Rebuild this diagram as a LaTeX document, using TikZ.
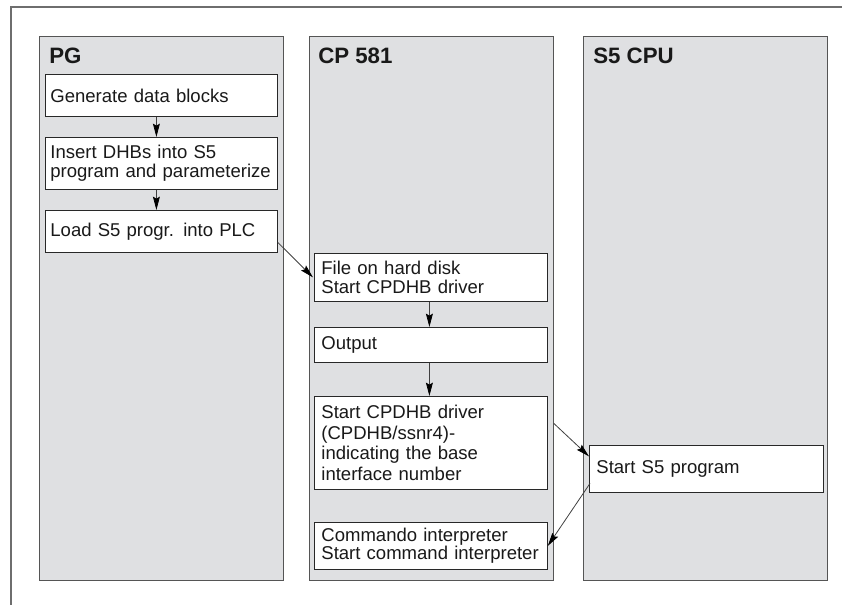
\documentclass[tikz,border=0pt]{standalone}
\usepackage{fontspec}
\setmainfont{Liberation Sans}
\usetikzlibrary{arrows.meta,calc}
\newdimen\pxu \pxu=0.75pt
\definecolor{colfill}{RGB}{223,224,226}
\definecolor{colline}{RGB}{85,85,85}
\definecolor{frameline}{RGB}{110,110,110}
\definecolor{boxline}{RGB}{40,40,40}
\begin{document}
\begin{tikzpicture}[x=0.75pt,y=-0.75pt,
  col/.style={draw=colline,fill=colfill,line width=0.9pt,rectangle,anchor=north west,inner sep=0pt},
  coltitle/.style={anchor=base west,inner sep=0pt,font=\fontsize{16.7pt}{18pt}\selectfont\bfseries,text=black!90},
  box/.style={draw=boxline,fill=white,line width=0.6pt,rectangle,anchor=north west,inner ysep=0pt,align=left,
    font=\fontsize{13.9pt}{13.8pt}\selectfont,text=black!90},
  pgbox/.style={box,inner xsep=5*\pxu},
  cpbox/.style={box,inner xsep=7*\pxu},
  arr/.style={draw=black!75,line width=0.6pt,-{Stealth[length=10pt,width=5.2pt,inset=1.5pt,color=black]}},
  frame/.style={draw=frameline,line width=0.9pt}]
\useasboundingbox (0,0) rectangle (842,605);
% outer frame (top and left only)
\coordinate (ftr) at (842,7);
\coordinate (ftl) at (11,7);
\coordinate (fbl) at (11,605);
\draw[frame] (ftr) -- (ftl) -- (fbl);
% columns
\node[col,minimum width=244*\pxu,minimum height=544*\pxu] (pgcol) at (39,36) {};
\node[col,minimum width=244*\pxu,minimum height=544*\pxu] (cpcol) at (309,36) {};
\node[col,minimum width=244*\pxu,minimum height=544*\pxu] (s5col) at (583,36) {};
\node[coltitle] (pgt) at (49,63.5) {PG};
\node[coltitle] (cpt) at (318,64) {CP 581};
\node[coltitle] (s5t) at (593,64) {S5 CPU};
% PG boxes
\node[pgbox,minimum width=232*\pxu,text width=222*\pxu,minimum height=42*\pxu] (gen) at (45,74) {Generate data blocks};
\node[pgbox,minimum width=232*\pxu,text width=222*\pxu,minimum height=52*\pxu] (ins) at (45,137) {Insert DHBs into S5\\program and parameterize};
\node[pgbox,minimum width=232*\pxu,text width=222*\pxu,minimum height=42*\pxu] (load) at (45,210) {Load S5 progr. into PLC};
% CP boxes
\node[cpbox,minimum width=233*\pxu,text width=219*\pxu,minimum height=48*\pxu] (file) at (314,253) {File on hard disk\\Start CPDHB driver};
\node[cpbox,minimum width=233*\pxu,text width=219*\pxu,minimum height=35*\pxu] (out) at (314,327) {Output};
\node[cpbox,minimum width=233*\pxu,text width=219*\pxu,minimum height=93*\pxu,
  font=\fontsize{13.9pt}{15.5pt}\selectfont] (drv) at (314,396) {Start CPDHB driver\\(CPDHB/ssnr4)-\\indicating the base\\interface number};
\node[cpbox,minimum width=233*\pxu,text width=219*\pxu,minimum height=47*\pxu] (cmd) at (314,522) {Commando interpreter\\Start command interpreter};
% S5 box
\node[cpbox,minimum width=234*\pxu,text width=220*\pxu,minimum height=47*\pxu] (start) at (589,445) {Start S5 program};
% connectors
\draw[arr] ($(gen.south)+(-5,0)$) -- ($(ins.north)+(-5,0)$);
\draw[arr] ($(ins.south)+(-5,0)$) -- ($(load.north)+(-5,0)$);
\draw[arr] ($(load.east)+(0,11)$) -- ($(file.west)+(-1,0)$);
\draw[arr] ($(file.south)+(-1.5,0)$) -- ($(out.north)+(-1.5,0)$);
\draw[arr] ($(out.south)+(-1.5,0)$) -- ($(drv.north)+(-1.5,0)$);
\draw[arr] ($(drv.east)+(6,-19.5)$) -- ($(start.west)+(0,-12.5)$);
\draw[arr] ($(start.west)+(1,14.5)$) -- (cmd.east);
\end{tikzpicture}
\end{document}
